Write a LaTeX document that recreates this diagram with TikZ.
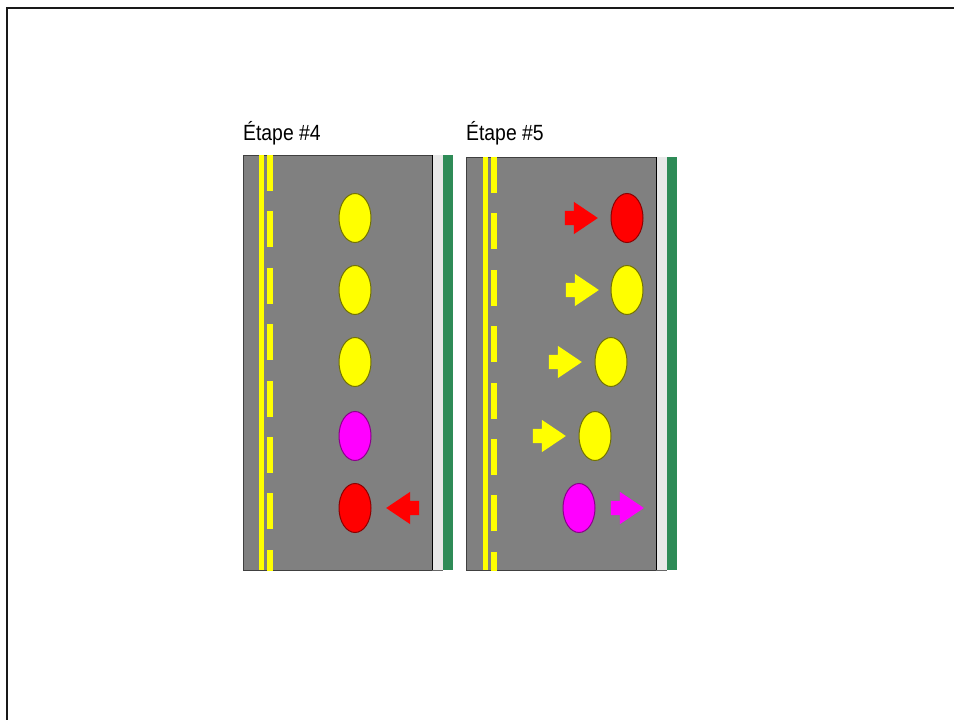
\documentclass[tikz,border=0pt]{standalone}
\usepackage{fontspec}
\setmainfont{Liberation Sans}
\usetikzlibrary{shapes.arrows,shapes.geometric}

\definecolor{asphalt}{RGB}{128,128,128}
\definecolor{laneyellow}{RGB}{255,255,0}
\definecolor{grass}{RGB}{46,139,87}
\definecolor{curb}{RGB}{232,232,232}
\definecolor{carred}{RGB}{255,0,0}
\definecolor{carmagenta}{RGB}{255,0,255}

\tikzset{
  car/.style={ellipse, minimum width=32pt, minimum height=49pt, inner sep=0pt, line width=1pt},
  yellowcar/.style={car, fill=laneyellow, draw=laneyellow!45!black},
  redcar/.style={car, fill=carred, draw=carred!55!black},
  magentacar/.style={car, fill=carmagenta, draw=carmagenta!55!black},
  move/.style={single arrow, draw=none, inner xsep=0pt, inner ysep=7pt, minimum height=33pt,
    single arrow head extend=9pt, single arrow tip angle=68},
  moveright/.style={move},
  moveleft/.style={move, shape border rotate=180},
  title/.style={anchor=base west, inner sep=0pt, font=\fontsize{22}{26}\selectfont, xscale=0.88}
}

\begin{document}
\begin{tikzpicture}[x=1pt,y=-1pt]
  \useasboundingbox (0,0) rectangle (954,720);
  % slide frame (top and left edges)
  \draw[line width=2.5pt, black!90] (7,720) -- (7,8) -- (954,8);

  % one road section: road, lane markings, curb and grass verge
  \newcommand{\roadsection}[5]{% #1 left x, #2 road right x, #3 top y, #4 solid line x, #5 dashed line x
    \fill[asphalt] (#1,#3) rectangle (#2,570);
    \draw[black!75, line width=0.8pt] (#1,#3) rectangle (#2,570);
    \fill[curb] (#2,#3) rectangle ({#2+11},570);
    \draw[black, line width=1pt] (#2,#3) -- (#2,570);
    \draw[black!60, line width=0.6pt] (#2,570) -- ({#2+11},570);
    \fill[grass] ({#2+11},#3) rectangle ({#2+21},570);
    \fill[laneyellow] (#4,#3) rectangle ({#4+5.5},570);
    \begin{scope}
      \clip (#1,#3) rectangle (#2,570);
      \foreach \k in {0,...,7}
        \fill[laneyellow] (#5,{#3+56.4*\k}) rectangle ({#5+6},{#3+56.4*\k+36});
    \end{scope}
  }

  \roadsection{243}{432}{155}{258.5}{267}
  \roadsection{466}{656}{157}{482.5}{491}

  % titles
  \node[title] (t4) at (243,140) {Étape \#4};
  \node[title] (t5) at (466,140) {Étape \#5};

  % step 4: cars queued, the last one turning back
  \node[yellowcar]  (a1) at (355,218) {};
  \node[yellowcar]  (a2) at (355,290) {};
  \node[yellowcar]  (a3) at (355,362) {};
  \node[magentacar] (a4) at (355,436) {};
  \node[redcar]     (a5) at (355,508) {};
  \node[moveleft, fill=carred] (m5) at (408,508) {};

  % step 5: cars shifting towards the curb
  \node[redcar]     (b1) at (627,218) {};
  \node[moveright, fill=carred] (n1) at (576,218) {};
  \node[yellowcar]  (b2) at (627,290) {};
  \node[moveright, fill=laneyellow] (n2) at (577,290) {};
  \node[yellowcar]  (b3) at (611,362) {};
  \node[moveright, fill=laneyellow] (n3) at (560,362) {};
  \node[yellowcar]  (b4) at (595,436) {};
  \node[moveright, fill=laneyellow] (n4) at (544,436) {};
  \node[magentacar] (b5) at (579,508) {};
  \node[moveright, fill=carmagenta] (n5) at (622,508) {};
\end{tikzpicture}
\end{document}
